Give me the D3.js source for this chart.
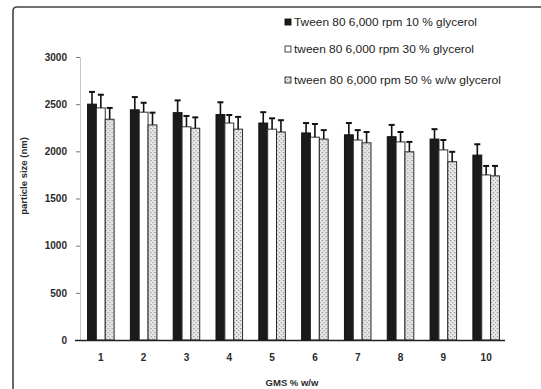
<!DOCTYPE html>
<html>
<head>
<meta charset="utf-8">
<script src="https://cdn.jsdelivr.net/npm/d3@7/dist/d3.min.js"></script>
<style>
  html, body { margin: 0; padding: 0; background: #fff; }
  svg { display: block; font-family: "Liberation Sans", Arial, sans-serif; }
</style>
</head>
<body>
<svg id="chart" width="541" height="389"></svg>
<script>
// GMS concentration (% w/w) groups
const categories = ["1", "2", "3", "4", "5", "6", "7", "8", "9", "10"];

const seriesNames = [
  "Tween 80 6,000 rpm 10 % glycerol",
  "tween 80 6,000 rpm 30 % glycerol",
  "tween 80 6,000 rpm 50 % w/w glycerol"
];

// mean particle size (nm)
const glycerol10 = [2500, 2440, 2410, 2390, 2300, 2195, 2175, 2155, 2130, 1960];
const glycerol30 = [2460, 2415, 2260, 2300, 2235, 2150, 2120, 2100, 2015, 1750];
const glycerol50 = [2340, 2280, 2245, 2235, 2205, 2130, 2090, 1995, 1890, 1740];

// standard deviation (nm)
const err10 = [130, 135, 130, 130, 115, 105, 125, 125, 105, 115];
const err30 = [140, 100, 115, 85, 115, 140, 105, 105, 105, 95];
const err50 = [120, 130, 115, 130, 125, 95, 115, 105, 105, 105];

const yTicks = [0, 500, 1000, 1500, 2000, 2500, 3000];

const svg = d3.select("#chart");
const labelFont = "'Liberation Sans', Arial, sans-serif";

// outer frame (top and left edge)
svg.append("path")
  .attr("d", "M13,389 L13,11 Q13,7 17,7 L541,7")
  .attr("fill", "none")
  .attr("stroke", "#444")
  .attr("stroke-width", 1.6);

const defs = svg.append("defs");
const pat = defs.append("pattern")
  .attr("id", "speckle")
  .attr("patternUnits", "userSpaceOnUse")
  .attr("width", 4).attr("height", 4);
pat.append("rect").attr("width", 4).attr("height", 4).attr("fill", "#e8e8e8");
pat.append("rect").attr("x", 0).attr("y", 0).attr("width", 1.2).attr("height", 1.2).attr("fill", "#8a8a8a");
pat.append("rect").attr("x", 2).attr("y", 2).attr("width", 1.2).attr("height", 1.2).attr("fill", "#9a9a9a");

const plot = { left: 80, right: 508, top: 57, bottom: 340 };

const x0 = d3.scaleBand()
  .domain(categories)
  .range([plot.left - 1, plot.right])
  .paddingInner(0.38)
  .paddingOuter(0.2);

const x1 = d3.scaleBand()
  .domain([0, 1, 2])
  .range([0, x0.bandwidth()]);

const y = d3.scaleLinear().domain([0, 3000]).range([plot.bottom, plot.top]);

const series = [
  { values: glycerol10, errs: err10, fill: "#1b1b1b", stroke: "#111" },
  { values: glycerol30, errs: err30, fill: "#ffffff", stroke: "#333" },
  { values: glycerol50, errs: err50, fill: "url(#speckle)", stroke: "#2a2a2a" }
];

// y axis
const yAxis = svg.append("g")
  .attr("transform", `translate(${plot.left},0)`)
  .call(d3.axisLeft(y).tickValues(yTicks).tickSize(4).tickPadding(9).tickFormat(d3.format("d")));
yAxis.select(".domain").attr("stroke", "#c8c8c8");
yAxis.selectAll(".tick line").attr("stroke", "#777");
yAxis.selectAll(".tick text")
  .attr("font-size", 10).attr("font-weight", "bold").attr("fill", "#2a2a2a")
  .attr("font-family", labelFont);

// bars
const groups = svg.append("g").selectAll("g")
  .data(categories)
  .join("g")
  .attr("transform", d => `translate(${x0(d)},0)`);

series.forEach((s, si) => {
  groups.append("rect")
    .attr("x", x1(si))
    .attr("y", (d, i) => y(s.values[i]))
    .attr("width", x1.bandwidth())
    .attr("height", (d, i) => y(0) - y(s.values[i]))
    .attr("fill", s.fill)
    .attr("stroke", s.stroke)
    .attr("stroke-width", 1);
});

// error bars (upper whisker)
series.forEach((s, si) => {
  const cx = x1(si) + x1.bandwidth() / 2;
  groups.append("line")
    .attr("x1", cx).attr("x2", cx)
    .attr("y1", (d, i) => y(s.values[i]))
    .attr("y2", (d, i) => y(s.values[i] + s.errs[i]))
    .attr("stroke", "#111").attr("stroke-width", 1.6);
  groups.append("line")
    .attr("x1", cx - 3).attr("x2", cx + 3)
    .attr("y1", (d, i) => y(s.values[i] + s.errs[i]))
    .attr("y2", (d, i) => y(s.values[i] + s.errs[i]))
    .attr("stroke", "#111").attr("stroke-width", 2);
});

// x axis
const xAxis = svg.append("g")
  .attr("transform", `translate(0,${plot.bottom})`)
  .call(d3.axisBottom(x0).tickSize(0).tickPadding(14));
xAxis.select(".domain")
  .attr("d", `M${plot.left - 5},0.5H${plot.right - 3}`)
  .attr("stroke", "#222").attr("stroke-width", 1.4);
xAxis.selectAll(".tick text")
  .attr("font-size", 10).attr("font-weight", "bold").attr("fill", "#2a2a2a")
  .attr("font-family", labelFont);

// axis titles
svg.append("text")
  .attr("transform", "translate(27,176) rotate(-90)")
  .attr("text-anchor", "middle")
  .attr("font-size", 9.5).attr("font-weight", "bold").attr("fill", "#2a2a2a")
  .attr("font-family", labelFont)
  .text("particle size (nm)");

svg.append("text")
  .attr("x", 292).attr("y", 386)
  .attr("text-anchor", "middle")
  .attr("font-size", 9.5).attr("font-weight", "bold").attr("fill", "#2a2a2a")
  .attr("font-family", labelFont)
  .text("GMS % w/w");

// legend
const legendY = [23, 50, 81];
const legendWidth = [183, 180, 207];
const legend = svg.append("g").selectAll("g")
  .data(seriesNames)
  .join("g")
  .attr("transform", (d, i) => `translate(285,${legendY[i]})`);
legend.append("rect")
  .attr("x", 0).attr("y", -4).attr("width", 6).attr("height", 6)
  .attr("fill", (d, i) => series[i].fill)
  .attr("stroke", (d, i) => series[i].stroke)
  .attr("stroke-width", 0.9);
legend.append("text")
  .attr("x", 9).attr("y", 2.5)
  .attr("font-size", 10.5).attr("fill", "#222")
  .attr("font-family", labelFont)
  .attr("textLength", (d, i) => legendWidth[i])
  .attr("lengthAdjust", "spacingAndGlyphs")
  .text(d => d);
</script>
</body>
</html>
